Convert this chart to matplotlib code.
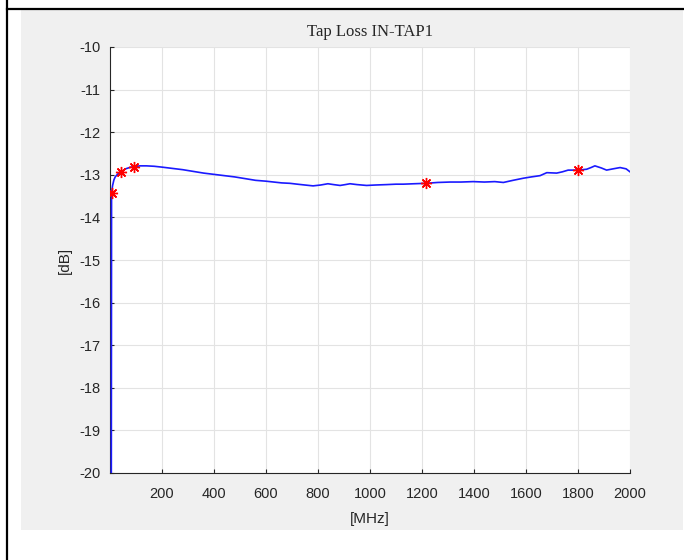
import matplotlib
matplotlib.use("Agg")
import matplotlib.pyplot as plt
from matplotlib.patches import Rectangle
from matplotlib.lines import Line2D

plt.rcParams["axes.unicode_minus"] = False

# Measured tap loss of IN-TAP1 versus frequency
freq_mhz = [5, 6, 10, 15, 20, 30, 42, 60, 80, 93, 115, 140, 170, 200, 240, 280,
            320, 360, 400, 440, 480, 520, 560, 600, 630, 660, 692, 720, 750, 781,
            810, 838, 860, 885, 905, 923, 950, 987, 1020, 1064, 1100, 1128, 1170,
            1215, 1260, 1308, 1350, 1397, 1440, 1480, 1513, 1550, 1590, 1620, 1654,
            1680, 1718, 1740, 1762, 1799, 1833, 1850, 1865, 1890, 1910, 1935, 1962,
            1985, 2000]
loss_db = [-20.5, -13.43, -13.25, -13.12, -13.05, -12.98, -12.93, -12.86, -12.82,
           -12.81, -12.79, -12.79, -12.80, -12.82, -12.85, -12.88, -12.92, -12.96,
           -12.99, -13.02, -13.05, -13.09, -13.13, -13.15, -13.17, -13.19, -13.20,
           -13.22, -13.24, -13.26, -13.24, -13.21, -13.23, -13.25, -13.23, -13.21,
           -13.23, -13.25, -13.24, -13.23, -13.22, -13.22, -13.21, -13.20, -13.18,
           -13.17, -13.17, -13.16, -13.17, -13.16, -13.18, -13.13, -13.08, -13.05,
           -13.02, -12.95, -12.96, -12.93, -12.89, -12.89, -12.87, -12.83, -12.79,
           -12.84, -12.89, -12.86, -12.83, -12.86, -12.93]

# Highlighted measurement points
mark_freq = [6, 42, 93, 1215, 1799]
mark_db = [-13.43, -12.93, -12.81, -13.20, -12.89]

x_ticks = [200, 400, 600, 800, 1000, 1200, 1400, 1600, 1800, 2000]
y_ticks = [-20, -19, -18, -17, -16, -15, -14, -13, -12, -11, -10]

W, H = 684, 560
fig = plt.figure(figsize=(W / 100, H / 100), dpi=100)
fig.patch.set_facecolor("white")

# grey panel and frame lines around the plot
fig.add_artist(Rectangle((21 / W, 1 - 530 / H), (683 - 21) / W, (530 - 9) / H,
                         transform=fig.transFigure, facecolor="#f0f0f0",
                         edgecolor="none", zorder=0))
fig.add_artist(Line2D([7 / W, 7 / W], [0, 1], transform=fig.transFigure,
                      color="black", lw=1.6))
fig.add_artist(Line2D([7 / W, 1], [1 - 8.5 / H, 1 - 8.5 / H],
                      transform=fig.transFigure, color="black", lw=1.6))

ax = fig.add_axes([110 / W, 1 - 473 / H, (630 - 110) / W, (473 - 47) / H])
ax.set_facecolor("white")

ax.plot(freq_mhz, loss_db, color=(0.1, 0.1, 1), lw=1.2, zorder=3)
ax.plot(mark_freq, mark_db, linestyle="none", marker=(8, 2, 0), markersize=8,
        markeredgewidth=1.0, color="red", zorder=4)

ax.set_xlim(0, 2000)
ax.set_ylim(-20, -10)
ax.set_xticks(x_ticks)
ax.set_yticks(y_ticks)

ax.grid(True, color="#e3e3e3", lw=0.8)
ax.set_axisbelow(True)
for side in ("top", "right"):
    ax.spines[side].set_visible(False)
for side in ("left", "bottom"):
    ax.spines[side].set_color("#262626")
    ax.spines[side].set_linewidth(0.8)

sans = ["Liberation Sans", "DejaVu Sans"]
ax.tick_params(direction="in", length=3, width=0.8, color="#262626",
               labelcolor="#262626")
ax.tick_params(axis="x", pad=10)
ax.tick_params(axis="y", pad=7)
for lab in ax.get_xticklabels() + ax.get_yticklabels():
    lab.set_fontfamily(sans)
    lab.set_fontsize(10.5)

ax.set_title("Tap Loss IN-TAP1", family=["Liberation Serif", "DejaVu Serif"],
             fontsize=12, color="#262626", pad=8)
ax.set_xlabel("[MHz]", family=sans, fontsize=11, color="#262626", labelpad=8)
ax.set_ylabel("[dB]", family=sans, fontsize=11, color="#262626", labelpad=5)

fig.savefig("out.png", dpi=100, facecolor=fig.get_facecolor())
